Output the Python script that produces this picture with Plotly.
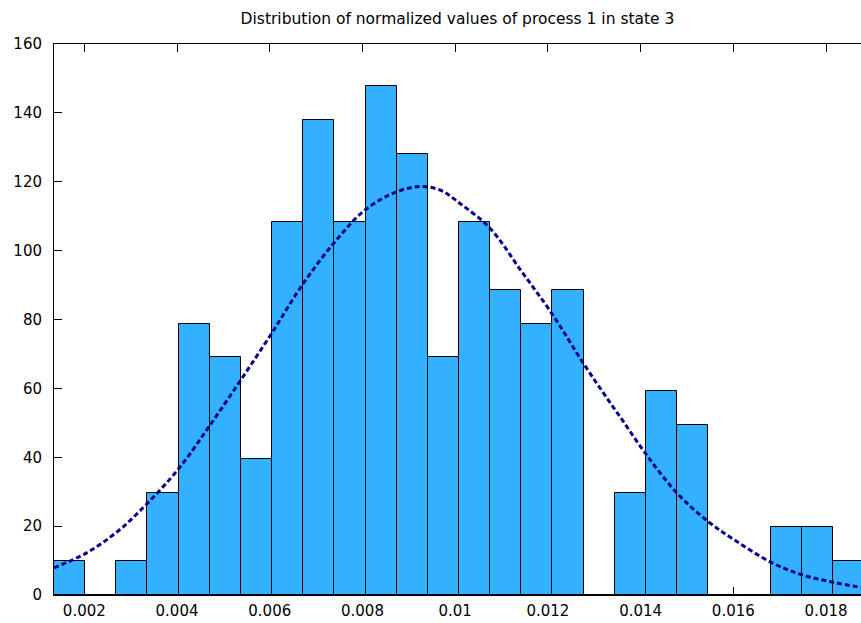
import plotly.graph_objects as go

# Histogram of the normalized values: 26 equal bins, counts per bin
bin_start = 0.001346
bin_width = 0.000672
counts = [1, 0, 1, 3, 8, 7, 4, 11, 14, 11, 15, 13, 7, 11, 9, 8, 9, 0, 3, 6, 5, 0, 0, 2, 2, 1]

# Fitted normal density, sampled along the x range
fit_x = [0.001346, 0.002030, 0.002712, 0.003359, 0.004043, 0.004690, 0.005374,
         0.006042, 0.006724, 0.007408, 0.008055, 0.008739, 0.009241, 0.009673,
         0.010104, 0.010751, 0.011435, 0.012082, 0.012764, 0.013303, 0.013555,
         0.014116, 0.014791, 0.015460, 0.016000, 0.016828, 0.017496, 0.018156,
         0.018754]
fit_y = [7.9, 12.1, 18.4, 26.6, 36.8, 48.9, 62.4, 76.0, 90.5, 102.6, 111.8, 117.1,
         118.6, 117.6, 113.7, 106.5, 93.9, 81.8, 67.3, 56.6, 51.8, 40.9, 29.5,
         21.3, 16.2, 9.4, 5.8, 3.7, 2.2]

x_ticks = [0.002, 0.004, 0.006, 0.008, 0.010, 0.012, 0.014, 0.016, 0.018]
x_tick_text = ["0.002", "0.004", "0.006", "0.008", "0.01", "0.012", "0.014", "0.016", "0.018"]
y_ticks = [0, 20, 40, 60, 80, 100, 120, 140, 160]

title = "Distribution of normalized values of process 1 in state 3"

# Normalise counts to a probability density
total = sum(counts)
density = [c / (total * bin_width) for c in counts]
centers = [bin_start + (i + 0.5) * bin_width for i in range(len(counts))]

FONT = "DejaVu Sans"

fig = go.Figure()
fig.add_trace(go.Bar(
    x=centers, y=density, width=[bin_width] * len(counts),
    marker=dict(color="#33b0ff", line=dict(color="#000000", width=1)),
    showlegend=False,
))
fig.add_trace(go.Scatter(
    x=fit_x, y=fit_y, mode="lines",
    line=dict(color="#00008b", width=3, dash="5px,3px", shape="spline"),
    showlegend=False,
))

fig.update_layout(
    width=861, height=623,
    margin=dict(l=54, r=0, t=44, b=28, autoexpand=False),
    paper_bgcolor="white", plot_bgcolor="white",
    bargap=0,
    font=dict(family=FONT, size=15, color="#000000"),
    title=dict(text=title, xref="paper", x=0.5, xanchor="center",
               yref="container", y=1 - 19 / 623, yanchor="middle",
               font=dict(family=FONT, size=15.5, color="#000000")),
    xaxis=dict(
        range=[0.001346, 0.018754], tickvals=x_ticks, ticktext=x_tick_text,
        ticks="inside", ticklen=8, tickwidth=1, tickcolor="#000000",
        showline=True, linecolor="#000000", linewidth=1, mirror="ticks",
        showgrid=False, zeroline=False, layer="below traces",
        ticklabelstandoff=2, automargin=False,
    ),
    yaxis=dict(
        range=[0, 160], tickvals=y_ticks,
        ticks="inside", ticklen=8, tickwidth=1, tickcolor="#000000",
        showline=True, linecolor="#000000", linewidth=1,
        showgrid=False, zeroline=False, layer="below traces",
        ticklabelstandoff=8, automargin=False,
    ),
    yaxis2=dict(
        overlaying="y", side="right", anchor="x", range=[0, 160], tickvals=y_ticks,
        ticks="inside", ticklen=5, tickwidth=1, tickcolor="#000000",
        showticklabels=False, showline=False, showgrid=False, zeroline=False,
        automargin=False,
    ),
)

fig.write_html("out.html")
